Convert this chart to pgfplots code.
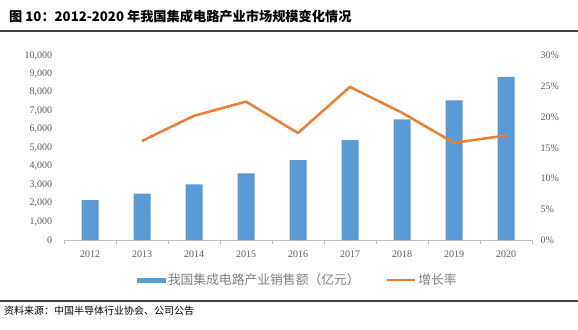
\documentclass[border=0pt]{standalone}
\usepackage{pgfplots}
\pgfplotsset{compat=1.18}
\usepackage{fontspec}
\setmainfont{Liberation Serif}
\newfontfamily\cjk{Noto Sans CJK SC}
\definecolor{barblue}{HTML}{5B9BD5}
\definecolor{lineor}{HTML}{ED7D31}
\definecolor{tickgray}{HTML}{595959}
\definecolor{leggray}{HTML}{7F7F7F}
\definecolor{axgray}{HTML}{BFBFBF}
\begin{document}
\begin{tikzpicture}[x=1bp,y=1bp]
\useasboundingbox (0,0) rectangle (578,-329);
\node[anchor=west,inner sep=0] at (9,-16) {\cjk\bfseries\fontsize{13.2bp}{15bp}\selectfont 图 10：2012-2020 年我国集成电路产业市场规模变化情况};
\draw[color=black!75,line width=1.2bp] (0,-31) -- (578,-31);
\draw[color=black!75,line width=1.2bp] (0,-301) -- (578,-301);
\node[anchor=west,inner sep=0] at (4,-311) {\cjk\fontsize{10bp}{12bp}\selectfont 资料来源：中国半导体行业协会、公司公告};
\begin{axis}[
  at={(64bp,-240bp)}, anchor=south west,
  width=468bp, height=184.5bp, scale only axis,
  xmin=-0.5, xmax=8.5, ymin=0, ymax=10000,
  axis y line*=left, axis x line*=bottom,
  y axis line style={draw=none},
  x axis line style={draw=axgray,-},
  xtick={0,...,8},
  xticklabels={2012,2013,2014,2015,2016,2017,2018,2019,2020},
  major x tick style={draw=none},
  minor xtick={-0.5,0.5,...,8.5},
  minor x tick style={draw=axgray},
  minor tick length=4bp,
  tick align=outside,
  ytick={0,1000,...,10000},
  major y tick style={draw=none},
  scaled y ticks=false,
  /pgf/number format/1000 sep={,},
  /pgf/number format/assume math mode=true,
  ticklabel style={font=\fontsize{10bp}{12bp}\selectfont, color=tickgray},
  xticklabel style={yshift=-3bp},
  yticklabel style={xshift=-4bp},
]
\addplot[ybar, bar width=17bp, fill=barblue, draw=none] coordinates {
 (0,2158) (1,2509) (2,3015) (3,3610) (4,4336) (5,5411) (6,6532) (7,7562) (8,8848)};
\end{axis}
\begin{axis}[
  at={(64bp,-240bp)}, anchor=south west,
  width=468bp, height=184.5bp, scale only axis,
  xmin=-0.5, xmax=8.5, ymin=0, ymax=30,
  axis y line*=right, axis x line=none,
  y axis line style={draw=none},
  ytick={0,5,...,30},
  major y tick style={draw=none},
  yticklabel={\pgfmathprintnumber[assume math mode=true]{\tick}\%},
  ticklabel style={font=\fontsize{10bp}{12bp}\selectfont, color=tickgray},
  yticklabel style={xshift=5bp},
  legend style={at={(0.5,-0.218)}, anchor=center, draw=none, fill=none,
    legend columns=2, font=\cjk\fontsize{12.8bp}{14bp}\selectfont, text=leggray,
    nodes={inner xsep=2bp},
    /tikz/every even column/.append style={column sep=24bp}},
  legend cell align=left,
]
\addlegendimage{legend image code/.code={\fill[barblue] (0bp,-2bp) rectangle (28bp,2bp);}}
\addlegendentry{我国集成电路产业销售额（亿元）}
\addplot[color=lineor, line width=2.5bp, mark=none, line join=round,
  legend image code/.code={\draw[color=lineor,line width=2.5bp] (0bp,0bp) -- (28bp,0bp);}] coordinates {
 (1,16.1) (2,20.2) (3,22.5) (4,17.4) (5,24.9) (6,20.7) (7,15.8) (8,17.0)};
\addlegendentry{增长率}
\end{axis}
\end{tikzpicture}
\end{document}
